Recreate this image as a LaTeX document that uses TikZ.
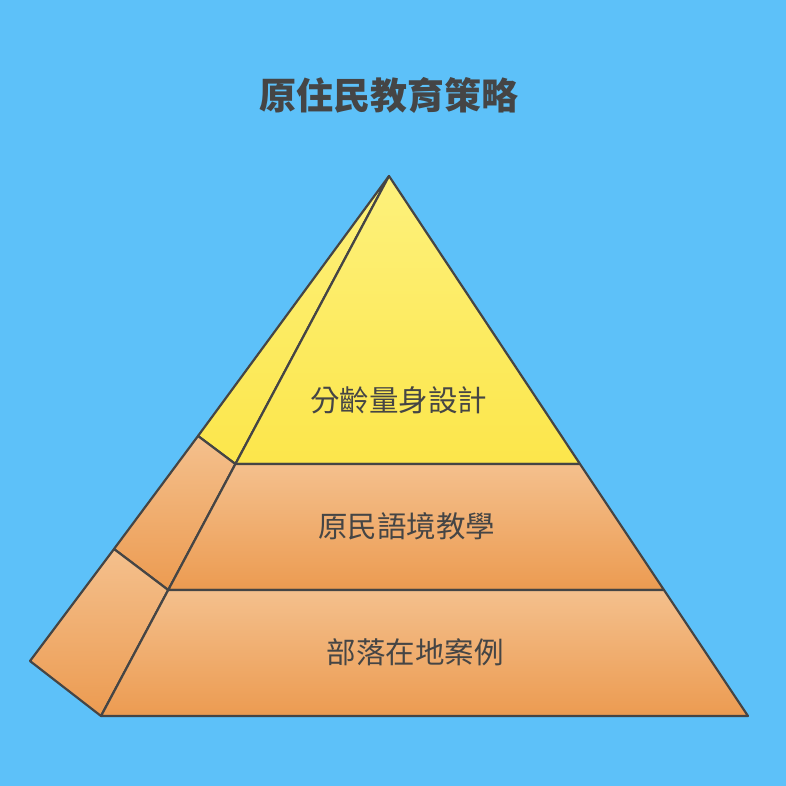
\documentclass[tikz,border=0pt]{standalone}
\usepackage{fontspec}
\setmainfont{Noto Sans CJK TC}
\usetikzlibrary{calc}
\definecolor{sky}{HTML}{5DC1F9}
\definecolor{edge}{HTML}{454545}
\definecolor{ytop}{HTML}{FDF17C}
\definecolor{ybot}{HTML}{FCE64B}
\definecolor{otop}{HTML}{F4C08D}
\definecolor{obot}{HTML}{EC9B51}
\tikzset{
  face/.style={draw=edge, line width=2.2pt, line join=round},
  yface/.style={face, top color=ytop, bottom color=ybot},
  oface/.style={face, top color=otop, bottom color=obot},
  lbl/.style={text=edge, font=\fontsize{29.5}{29.5}\selectfont, inner sep=0}
}

\begin{document}
\begin{tikzpicture}[x=1pt, y=-1pt]
\fill[sky] (0,0) rectangle (786,786);
\useasboundingbox (0,0) rectangle (786,786);
% corners of the pyramid
\coordinate (apex) at (389,176);
\coordinate (bl) at (101,716);
\coordinate (br) at (748,716);
\coordinate (back) at (30,661);
\coordinate (f1) at (235.4,464); \coordinate (g1) at (580,464);
\coordinate (f2) at (168.2,590); \coordinate (g2) at (664,590);
\coordinate (b1) at (198,436);
\coordinate (b2) at (114,549);
% side faces
\shade[yface] (apex) -- (b1) -- (f1) -- cycle;
\shade[oface] (b1) -- (b2) -- (f2) -- (f1) -- cycle;
\shade[oface] (b2) -- (back) -- (bl) -- (f2) -- cycle;
% front faces
\shade[yface] (apex) -- (f1) -- (g1) -- cycle;
\shade[oface] (f1) -- (f2) -- (g2) -- (g1) -- cycle;
\shade[oface] (f2) -- (bl) -- (br) -- (g2) -- cycle;
% texts
\node[text=edge, font=\fontsize{37}{37}\selectfont\bfseries] (title) at (389,95) {原住民教育策略};
\node[lbl] (tier1) at (398.5,400) {分齡量身設計};
\node[lbl] (tier2) at (406.5,526) {原民語境教學};
\node[lbl] (tier3) at (415,652) {部落在地案例};
\end{tikzpicture}
\end{document}
